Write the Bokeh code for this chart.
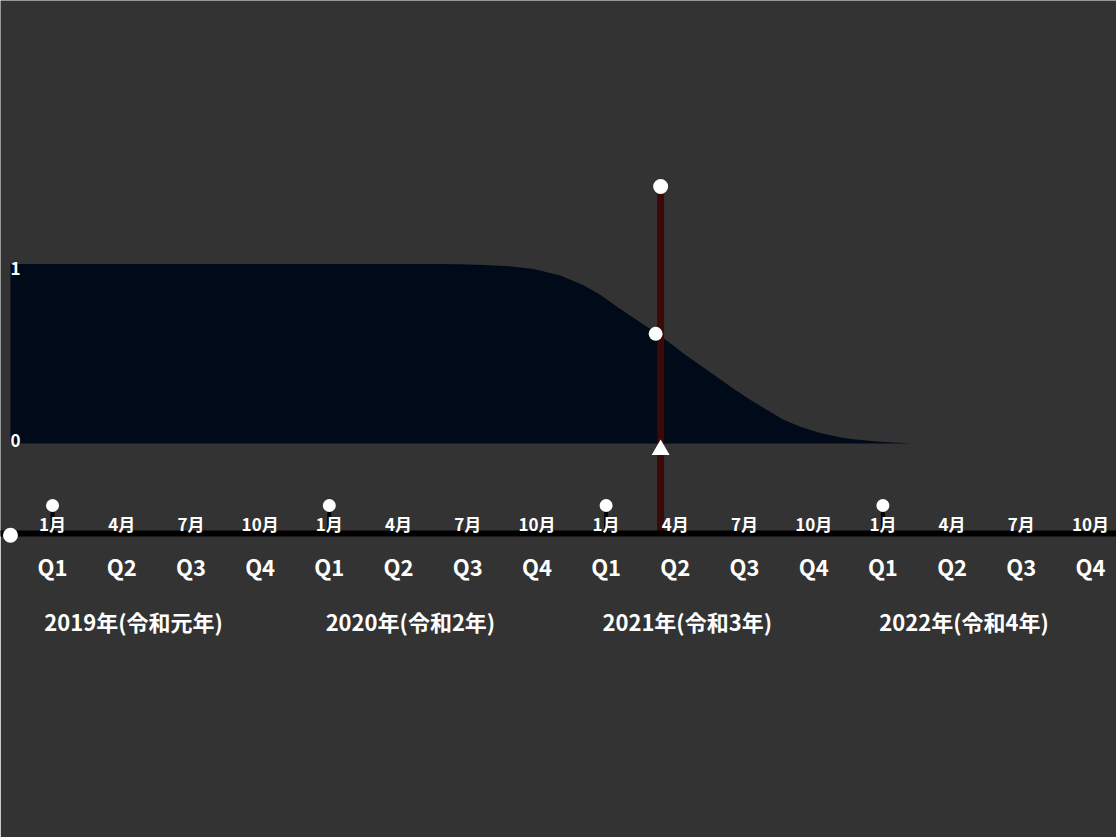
from bokeh.plotting import figure
from bokeh.models import FixedTicker, LinearAxis, Range1d
from bokeh.embed import file_html
from bokeh.resources import INLINE
from bokeh.core.properties import value

# ---------------- data ----------------
years = [2019, 2020, 2021, 2022]
year_labels = ["2019年(令和元年)", "2020年(令和2年)", "2021年(令和3年)", "2022年(令和4年)"]
quarter_ticks = [2019.0, 2019.25, 2019.5, 2019.75,
                 2020.0, 2020.25, 2020.5, 2020.75,
                 2021.0, 2021.25, 2021.5, 2021.75,
                 2022.0, 2022.25, 2022.5, 2022.75]
quarter_labels = ["Q1", "Q2", "Q3", "Q4"] * 4
month_labels = ["1月", "4月", "7月", "10月"] * 4

curve_x = [2018.848, 2020.380, 2020.470, 2020.557, 2020.650, 2020.738, 2020.835,
           2020.918, 2020.980, 2021.041, 2021.113, 2021.186, 2021.233, 2021.280,
           2021.341, 2021.402, 2021.460, 2021.522, 2021.583, 2021.641, 2021.702,
           2021.764, 2021.830, 2021.883, 2021.950, 2022.002, 2022.089]
curve_y = [1.0, 1.0, 0.999, 0.995, 0.987, 0.972, 0.936,
           0.882, 0.827, 0.761, 0.686, 0.611, 0.557, 0.501,
           0.435, 0.369, 0.306, 0.242, 0.185, 0.132, 0.093,
           0.063, 0.040, 0.026, 0.015, 0.009, 0.002]

today = 2021.197
today_value = 0.611
level_labels = ["1", "0"]
level_values = [1.0, 0.0]

# ---------------- styling ----------------
BG = "#333333"
AREA = "#000a18"
LINE = "#3c0909"
WHITE = "#ffffff"
FONT = "Noto Sans CJK JP"

x0, x1 = 2018.812, 2022.844
y0, y1 = -0.501, 2.468

p = figure(width=1116, height=837, output_backend="svg", toolbar_location=None,
           x_range=Range1d(x0, x1), y_range=Range1d(y0, y1),
           x_axis_location=None, y_axis_location=None,
           background_fill_color=BG, border_fill_color=BG, outline_line_color=None,
           min_border_left=0, min_border_right=0, min_border_top=0, min_border_bottom=304)
p.xgrid.visible = False
p.ygrid.visible = False

# area
p.varea(x=curve_x, y1=[0] * len(curve_x), y2=curve_y, fill_color=AREA)

# today line
p.segment(x0=[today], y0=[y0], x1=[today], y1=[1.41], line_color=LINE, line_width=7)

# year start ticks and pins
p.segment(x0=years, y0=[y0] * 4, x1=years, y1=[-0.37] * 4, line_color="black", line_width=4)
p.scatter(x=years, y=[-0.345] * 4, size=13, fill_color=WHITE, line_color=None)

# pins / markers
p.scatter(x=[today], y=[1.432], size=15, fill_color=WHITE, line_color=None)
p.scatter(x=[today - 0.018], y=[today_value], size=14, fill_color=WHITE, line_color=None)
p.scatter(x=[today], y=[-0.035], marker="triangle", size=18, fill_color=WHITE, line_color=None)
p.scatter(x=[curve_x[0]], y=[y0 - 0.01], size=15, fill_color=WHITE, line_color=None, level="overlay")

# level labels at left
p.text(x=[2018.866] * 2, y=[level_values[0] - 0.025, level_values[1] + 0.017], text=level_labels,
       text_color=WHITE, text_font=value(FONT), text_font_style="bold", text_font_size="17px",
       text_align="center", text_baseline="middle")

# month labels above the axis line
p.text(x=quarter_ticks, y=[-0.445] * 16, text=month_labels,
       text_color=WHITE, text_font=value(FONT), text_font_style="bold", text_font_size="17px",
       text_align="center", text_baseline="middle", level="overlay")

# quarter axis
ax = LinearAxis(ticker=FixedTicker(ticks=quarter_ticks),
                major_label_overrides={t: l for t, l in zip(quarter_ticks, quarter_labels)})
ax.axis_line_color = "black"
ax.axis_line_width = 6
ax.major_tick_line_color = None
ax.minor_tick_line_color = None
ax.major_label_standoff = 10
ax.major_label_text_color = WHITE
ax.major_label_text_font = FONT
ax.major_label_text_font_style = "bold"
ax.major_label_text_font_size = "22px"
p.add_layout(ax, "below")

# year axis
year_pos = [y + 0.293 for y in years]
ay = LinearAxis(ticker=FixedTicker(ticks=year_pos),
                major_label_overrides={t: l for t, l in zip(year_pos, year_labels)})
ay.axis_line_color = None
ay.major_tick_line_color = None
ay.minor_tick_line_color = None
ay.major_label_standoff = 14
ay.major_label_text_color = WHITE
ay.major_label_text_font = FONT
ay.major_label_text_font_style = "bold"
ay.major_label_text_font_size = "22px"
p.add_layout(ay, "below")

open("out.html", "w").write(file_html(p, INLINE))
